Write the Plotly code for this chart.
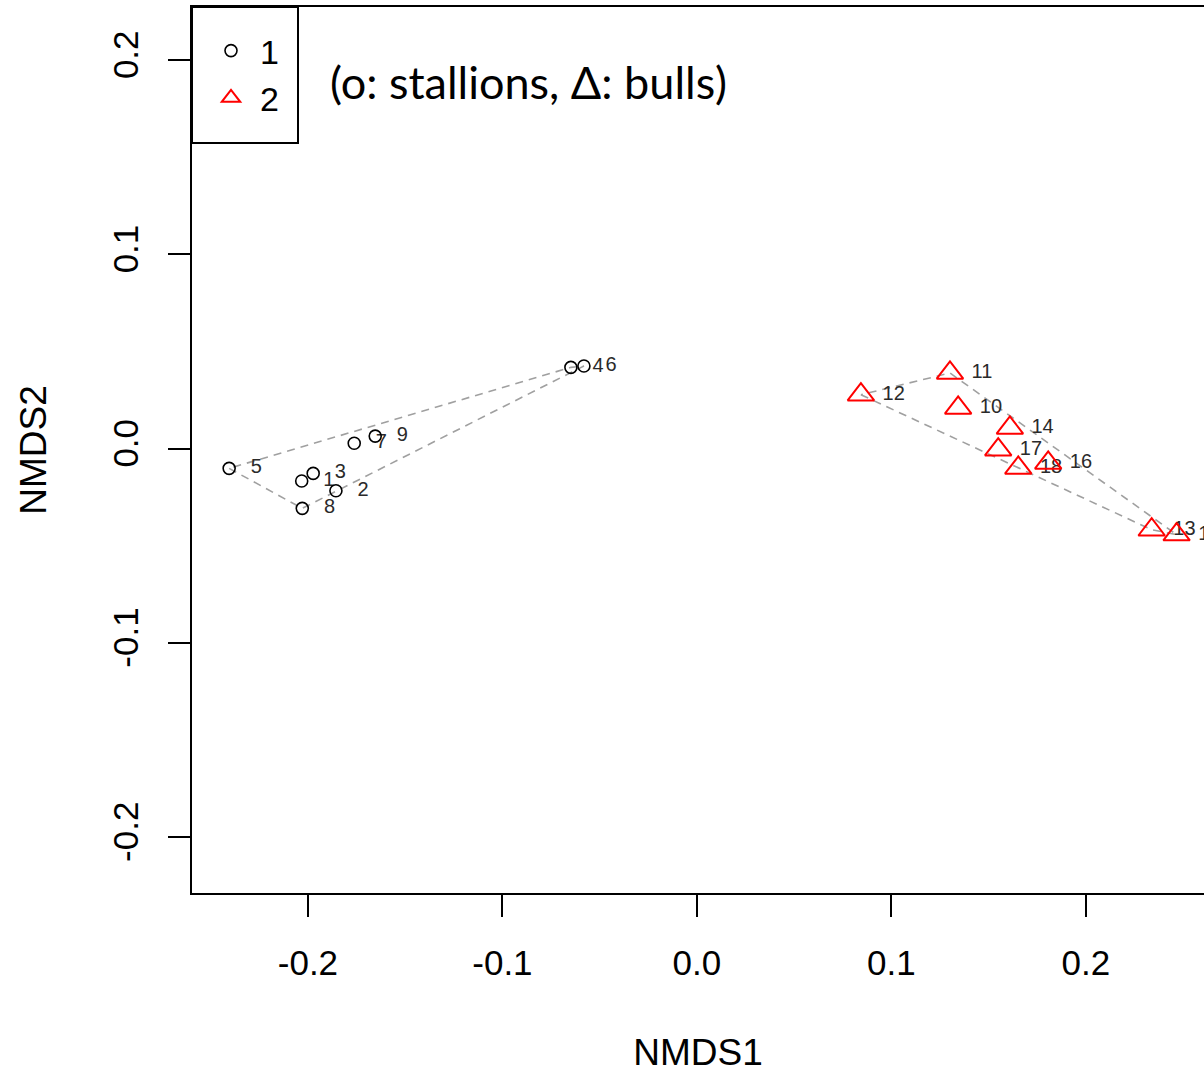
import plotly.graph_objects as go

# ---- data ----
stallion_ids = ["1", "2", "3", "4", "5", "6", "7", "8", "9"]
stallion_x = [-0.2032, -0.1856, -0.1973, -0.0648, -0.2405, -0.0581, -0.1762, -0.2029, -0.1654]
stallion_y = [-0.0167, -0.0217, -0.0128, 0.0418, -0.0102, 0.0425, 0.0027, -0.0308, 0.0064]

bull_ids = ["10", "11", "12", "13", "14", "15", "16", "17", "18"]
bull_x = [0.1343, 0.1301, 0.0843, 0.2338, 0.1609, 0.2466, 0.1806, 0.1549, 0.1652]
bull_y = [0.0209, 0.0389, 0.0277, -0.0418, 0.0106, -0.0443, -0.0074, -0.0006, -0.0100]

x_ticks = [-0.2, -0.1, 0.0, 0.1, 0.2]
x_tick_labels = ["-0.2", "-0.1", "0.0", "0.1", "0.2"]
y_ticks = [-0.2, -0.1, 0.0, 0.1, 0.2]
y_tick_labels = ["-0.2", "-0.1", "0.0", "0.1", "0.2"]


def convex_hull(xs, ys):
    pts = sorted(zip(xs, ys))

    def cross(o, a, b):
        return (a[0] - o[0]) * (b[1] - o[1]) - (a[1] - o[1]) * (b[0] - o[0])

    lower, upper = [], []
    for p in pts:
        while len(lower) >= 2 and cross(lower[-2], lower[-1], p) <= 0:
            lower.pop()
        lower.append(p)
    for p in reversed(pts):
        while len(upper) >= 2 and cross(upper[-2], upper[-1], p) <= 0:
            upper.pop()
        upper.append(p)
    hull = lower[:-1] + upper[:-1]
    hull.append(hull[0])
    return [p[0] for p in hull], [p[1] for p in hull]


fig = go.Figure()

# hulls
for xs, ys in [(stallion_x, stallion_y), (bull_x, bull_y)]:
    hx, hy = convex_hull(xs, ys)
    fig.add_trace(go.Scatter(x=hx, y=hy, mode="lines",
                             line=dict(color="#a0a0a0", width=1.6, dash="8px,6px"),
                             showlegend=False, hoverinfo="skip"))

# point labels (transparent marker sets text offset)
for xs, ys, ids in [(stallion_x, stallion_y, stallion_ids), (bull_x, bull_y, bull_ids)]:
    fig.add_trace(go.Scatter(x=xs, y=ys, mode="markers+text", text=ids,
                             textposition="middle right",
                             textfont=dict(family="Liberation Sans", size=20, color="#2a2a2a"),
                             marker=dict(size=33, opacity=0),
                             showlegend=False, hoverinfo="skip", cliponaxis=False))

# points
fig.add_trace(go.Scatter(x=stallion_x, y=stallion_y, mode="markers", name="1",
                         legendgroup="1",
                         marker=dict(symbol="circle-open", size=12, color="black",
                                     line=dict(width=1.6, color="black"))))
fig.add_trace(go.Scatter(x=bull_x, y=bull_y, mode="markers", name="2",
                         legendgroup="2",
                         marker=dict(symbol="triangle-up-open", size=23, color="red",
                                     line=dict(width=2, color="red"))))

W, H = 1204, 1073
L, R, T, B = 192, 0, 7, 180
pw, ph = W - L - R, H - T - B


def px_x(p):
    return (p - L) / pw


def px_y(p):
    return 1 - (p - T) / ph


# legend box
fig.add_shape(type="rect", xref="paper", yref="paper",
              x0=px_x(192), x1=px_x(298), y0=px_y(143), y1=px_y(7),
              line=dict(color="black", width=2), fillcolor="white", layer="below")

fig.add_annotation(text="(\u03bf: stallions, \u0394: bulls)", xref="paper", yref="paper",
                   x=px_x(328), y=px_y(82), xanchor="left", yanchor="middle",
                   showarrow=False, font=dict(family="Lato", size=45, color="black"))

fig.update_layout(
    width=W, height=H,
    margin=dict(l=L, r=R, t=T, b=B, pad=0),
    plot_bgcolor="white", paper_bgcolor="white",
    font=dict(family="Liberation Sans", color="black"),
    legend=dict(x=px_x(202), y=px_y(22), xanchor="left", yanchor="top",
                bgcolor="rgba(0,0,0,0)", borderwidth=0,
                font=dict(family="Liberation Sans", size=34, color="black"),
                itemsizing="trace", itemwidth=48, tracegroupgap=0),
    xaxis=dict(range=[-0.2596, 0.2607], tickvals=x_ticks, ticktext=x_tick_labels,
               showgrid=False, zeroline=False, showline=True, mirror=True,
               linecolor="black", linewidth=2, ticks="outside", ticklen=22,
               tickwidth=2, tickcolor="black",
               tickfont=dict(family="Liberation Sans", size=35, color="black"),
               ticklabelstandoff=16,
               title=dict(text="NMDS1", standoff=65,
                          font=dict(family="Liberation Sans", size=37, color="black"))),
    yaxis=dict(range=[-0.2288, 0.2273], tickvals=y_ticks, ticktext=y_tick_labels,
               showgrid=False, zeroline=False, showline=True, mirror=False,
               linecolor="black", linewidth=2, ticks="outside", ticklen=22,
               tickwidth=2, tickcolor="black", tickangle=-90,
               tickfont=dict(family="Liberation Sans", size=35, color="black"),
               ticklabelstandoff=16,
               title=dict(text="NMDS2", standoff=48,
                          font=dict(family="Liberation Sans", size=37, color="black"))),
)

fig.write_html("out.html")
